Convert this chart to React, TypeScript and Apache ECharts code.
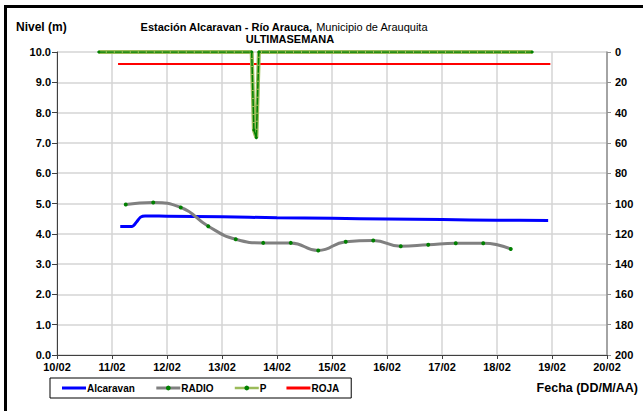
import React, { useEffect, useRef } from "react";
import * as echarts from "echarts";

// Days of February (fractional) and values
const alcaravanDays = [11.15, 11.36, 11.45, 11.52, 11.6, 12.0, 13.0, 14.0, 15.0, 16.0, 17.0, 18.0, 18.93];
const alcaravanVals = [4.24, 4.24, 4.4, 4.55, 4.59, 4.58, 4.56, 4.53, 4.51, 4.49, 4.47, 4.45, 4.44];

const radioDays = [11.25, 11.75, 12.25, 12.75, 13.25, 13.75, 14.25, 14.75, 15.25, 15.75, 16.25, 16.75, 17.25, 17.75, 18.25];
const radioVals = [4.97, 5.03, 4.87, 4.25, 3.82, 3.7, 3.7, 3.45, 3.74, 3.78, 3.59, 3.64, 3.69, 3.69, 3.5];

const pDays = [10.76, 13.54, 13.58, 13.625, 13.67, 18.64];
const pVals = [0, 0, 51.5, 56.6, 0, 0];

const rojaDays = [11.11, 18.97];
const rojaVals = [9.6, 9.6];

const xTicks = { min: 10, max: 20, interval: 1 };
const yLeft = { min: 0, max: 10, interval: 1 };
const yRight = { min: 0, max: 200, interval: 20 };

const zip = (a: number[], b: number[]) => a.map((d, i) => [d, b[i]]);

const FONT = "Liberation Sans, Arial, sans-serif";
const BAR_ICON = "path://M0,0 L24,0 L24,3 L0,3 Z";

export default function App() {
  const ref = useRef<HTMLDivElement>(null);
  useEffect(() => {
    if (!ref.current) return;
    const chart = echarts.init(ref.current, null, { renderer: "svg" });
    const lbl = { fontFamily: FONT, fontWeight: "bold" as const, fontSize: 11, color: "#000" };
    chart.setOption({
      animation: false,
      backgroundColor: "#fff",
      grid: { left: 57, right: 36, top: 52, bottom: 56, containLabel: false },
      xAxis: {
        type: "value",
        min: xTicks.min,
        max: xTicks.max,
        interval: xTicks.interval,
        axisLine: { show: true, onZero: false, lineStyle: { color: "#404040", width: 1 } },
        axisTick: { show: true, inside: false, length: 4, lineStyle: { color: "#404040" } },
        axisLabel: {
          ...lbl,
          margin: 6,
          formatter: (v: number) => String(v).padStart(2, "0") + "/02",
        },
        splitLine: { show: true, lineStyle: { color: "#d4d4d4", width: 1.5 } },
      },
      yAxis: [
        {
          type: "value",
          min: yLeft.min,
          max: yLeft.max,
          interval: yLeft.interval,
          axisLine: { show: true, lineStyle: { color: "#404040", width: 1 } },
          axisTick: { show: true, length: 5, lineStyle: { color: "#404040" } },
          axisLabel: { ...lbl, margin: 6, formatter: (v: number) => v.toFixed(1) },
          splitLine: { show: true, lineStyle: { color: "#d4d4d4", width: 1.5 } },
        },
        {
          type: "value",
          min: yRight.min,
          max: yRight.max,
          interval: yRight.interval,
          inverse: true,
          position: "right",
          axisLine: { show: true, lineStyle: { color: "#909090", width: 1.5 } },
          axisTick: { show: true, length: 4, lineStyle: { color: "#909090" } },
          axisLabel: { ...lbl, margin: 8 },
          splitLine: { show: false },
        },
      ],
      legend: {
        left: 50,
        top: 378,
        itemGap: 20,
        itemWidth: 24,
        itemHeight: 6,
        padding: [5, 12, 5, 12],
        borderColor: "#000",
        borderWidth: 1,
        textStyle: { fontFamily: FONT, fontWeight: "bold", fontSize: 10, color: "#000", padding: [0, 0, 0, -4] },
        data: [
          { name: "Alcaravan", icon: BAR_ICON },
          { name: "RADIO", lineStyle: { width: 3, color: "#808080" } },
          { name: "P", lineStyle: { width: 2.5, color: "#9bbb59" } },
          { name: "ROJA", icon: BAR_ICON },
        ],
      },
      series: [
        {
          name: "Alcaravan",
          type: "line",
          data: zip(alcaravanDays, alcaravanVals),
          smooth: 0.3,
          symbol: "none",
          lineStyle: { color: "#0000ff", width: 3 },
          itemStyle: { color: "#0000ff" },
          z: 3,
        },
        {
          name: "RADIO",
          type: "line",
          data: zip(radioDays, radioVals),
          smooth: true,
          symbol: "circle",
          symbolSize: 4,
          lineStyle: { color: "#808080", width: 3 },
          itemStyle: { color: "#008000" },
          z: 4,
        },
        {
          name: "P",
          type: "line",
          yAxisIndex: 1,
          data: zip(pDays, pVals),
          symbol: "circle",
          symbolSize: 3,
          showSymbol: true,
          lineStyle: { color: "#9bbb59", width: 4 },
          itemStyle: { color: "#008000" },
          z: 5,
        },
        {
          name: "P",
          type: "line",
          yAxisIndex: 1,
          data: zip(pDays, pVals),
          symbol: "none",
          lineStyle: { color: "#008000", width: 1.5, type: [7, 1] },
          z: 6,
        },
        {
          name: "ROJA",
          type: "line",
          data: zip(rojaDays, rojaVals),
          symbol: "none",
          lineStyle: { color: "#ff0000", width: 2 },
          itemStyle: { color: "#ff0000" },
          z: 2,
        },
      ],
      graphic: [
        { type: "rect", left: 4, top: 5, shape: { width: 639, height: 3 }, style: { fill: "#000" }, silent: true },
        { type: "rect", left: 4, top: 5, shape: { width: 3, height: 406 }, style: { fill: "#000" }, silent: true },
        {
          type: "text",
          left: 16,
          top: 21,
          style: { text: "Nivel (m)", font: `bold 12px ${FONT}`, fill: "#000" },
        },
        {
          type: "text",
          x: 284,
          y: 21,
          style: {
            text: "{b|Estación Alcaravan - Río Arauca,} {n|Municipio de Arauquita}",
            align: "center",
            rich: {
              b: { font: `bold 11px ${FONT}`, fill: "#000" },
              n: { font: `11px ${FONT}`, fill: "#000" },
            },
          },
        },
        {
          type: "text",
          x: 290,
          y: 33,
          style: { text: "ULTIMASEMANA", align: "center", font: `bold 11px ${FONT}`, fill: "#000" },
        },
        {
          type: "text",
          right: 5,
          top: 381,
          style: { text: "Fecha (DD/M/AA)", font: `bold 12.5px ${FONT}`, fill: "#000" },
        },
      ],
    });
    return () => chart.dispose();
  }, []);
  return <div ref={ref} style={{ width: 643, height: 411, position: "absolute", left: 0, top: 0 }} />;
}
